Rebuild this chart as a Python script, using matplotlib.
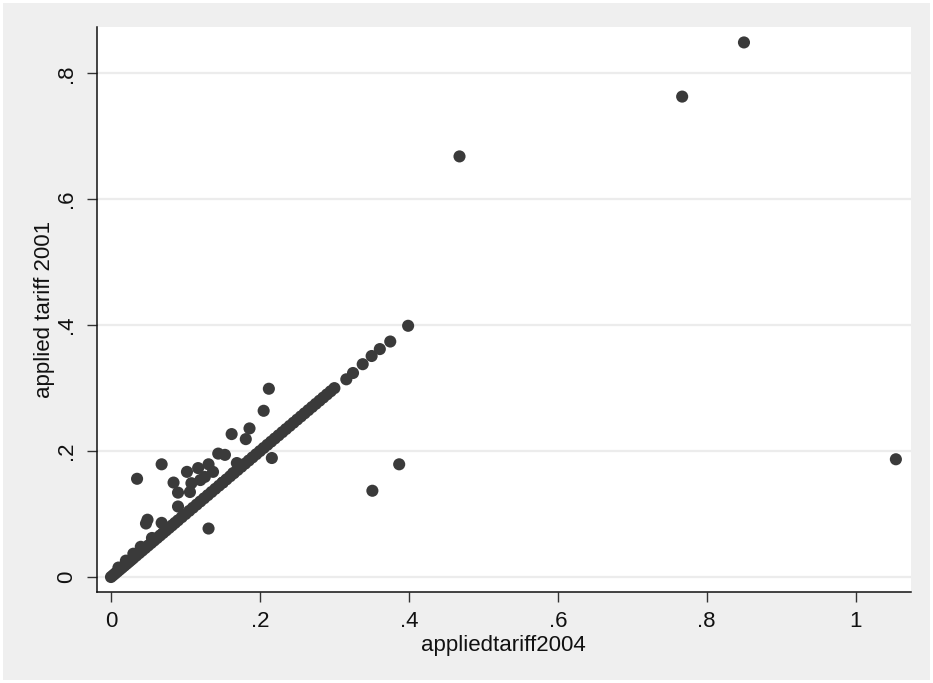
import matplotlib
matplotlib.use("Agg")
import matplotlib.pyplot as plt
from matplotlib.patches import Rectangle

# ---- data ----
diag_2004 = [0.000, 0.003, 0.006, 0.009, 0.012, 0.015, 0.018, 0.021, 0.024, 0.027,
             0.030, 0.034, 0.038, 0.042, 0.046, 0.050, 0.054, 0.058, 0.062, 0.066,
             0.070, 0.074, 0.078, 0.082, 0.086, 0.090, 0.095, 0.100, 0.105, 0.110,
             0.115, 0.120, 0.125, 0.130, 0.135, 0.140, 0.145, 0.150, 0.155, 0.160,
             0.165, 0.170, 0.175, 0.180, 0.185, 0.190, 0.195, 0.200, 0.205, 0.210,
             0.215, 0.220, 0.225, 0.230, 0.235, 0.240, 0.245, 0.250, 0.255, 0.260,
             0.265, 0.270, 0.275, 0.280, 0.285, 0.290, 0.295, 0.300,
             0.316, 0.325, 0.338, 0.350, 0.361, 0.375, 0.399,
             0.010, 0.020, 0.030, 0.040, 0.055]
diag_2001 = [0.000, 0.003, 0.006, 0.009, 0.012, 0.015, 0.018, 0.021, 0.024, 0.027,
             0.030, 0.034, 0.038, 0.042, 0.046, 0.050, 0.054, 0.058, 0.062, 0.066,
             0.070, 0.074, 0.078, 0.082, 0.086, 0.090, 0.095, 0.100, 0.105, 0.110,
             0.115, 0.120, 0.125, 0.130, 0.135, 0.140, 0.145, 0.150, 0.155, 0.160,
             0.165, 0.170, 0.175, 0.180, 0.185, 0.190, 0.195, 0.200, 0.205, 0.210,
             0.215, 0.220, 0.225, 0.230, 0.235, 0.240, 0.245, 0.250, 0.255, 0.260,
             0.265, 0.270, 0.275, 0.280, 0.285, 0.290, 0.295, 0.300,
             0.314, 0.324, 0.338, 0.351, 0.362, 0.374, 0.399,
             0.015, 0.026, 0.037, 0.048, 0.062]

off_2004 = [0.035, 0.068, 0.049, 0.047, 0.068, 0.084, 0.090, 0.090, 0.102, 0.106,
            0.108, 0.117, 0.120, 0.126, 0.131, 0.137, 0.131, 0.144, 0.153, 0.150,
            0.164, 0.169, 0.162, 0.181, 0.186, 0.205, 0.212, 0.216, 0.351, 0.387,
            0.468, 0.767, 0.850, 1.054]
off_2001 = [0.156, 0.179, 0.091, 0.085, 0.086, 0.150, 0.134, 0.112, 0.167, 0.135,
            0.149, 0.173, 0.154, 0.159, 0.179, 0.167, 0.077, 0.196, 0.194, 0.150,
            0.165, 0.181, 0.227, 0.219, 0.236, 0.264, 0.299, 0.189, 0.137, 0.179,
            0.668, 0.763, 0.849, 0.187]

x_ticks = [0, 0.2, 0.4, 0.6, 0.8, 1.0]
x_ticklabels = ["0", ".2", ".4", ".6", ".8", "1"]
y_ticks = [0, 0.2, 0.4, 0.6, 0.8]
y_ticklabels = ["0", ".2", ".4", ".6", ".8"]

x_all = diag_2004 + off_2004
y_all = diag_2001 + off_2001

# ---- figure ----
W, H = 933, 683
plt.rcParams["font.family"] = ["Liberation Sans", "DejaVu Sans"]
fig = plt.figure(figsize=(W / 100, H / 100), dpi=100, facecolor="white")

bg = Rectangle((3 / W, 3 / H), (930 - 3) / W, (680 - 3) / H,
               transform=fig.transFigure, facecolor="#efefef",
               edgecolor="none", zorder=-10)
fig.patches.append(bg)

ax = fig.add_axes([96.7 / W, (H - 592) / H, (911 - 96.7) / W, (592 - 26.7) / H])
ax.set_zorder(5)
ax.set_facecolor("white")

ax.scatter(x_all, y_all, s=76, color="#3a3a3a", edgecolors="none", zorder=3)

ax.set_xlim(-0.0192, 1.0743)
ax.set_ylim(-0.0238, 0.874)

ax.set_xticks(x_ticks)
ax.set_xticklabels(x_ticklabels)
ax.set_yticks(y_ticks)
ax.set_yticklabels(y_ticklabels, rotation=90, va="center")

ax.yaxis.grid(True, color="#ececec", linewidth=1.6, zorder=0)
ax.xaxis.grid(False)
ax.set_axisbelow(True)

for side in ["top", "right"]:
    ax.spines[side].set_visible(False)
for side in ["left", "bottom"]:
    ax.spines[side].set_color("#111111")
    ax.spines[side].set_linewidth(1.1)

ax.tick_params(axis="both", direction="out", length=7, width=1.0, color="#333333",
               labelsize=16, labelcolor="#111111")
ax.tick_params(axis="x", pad=7)
ax.tick_params(axis="y", pad=7)

ax.set_xlabel("appliedtariff2004", fontsize=16, color="#111111", labelpad=2)
ax.set_ylabel("applied tariff 2001", fontsize=16, color="#111111", labelpad=1)

fig.savefig("out.png", dpi=100, facecolor=fig.get_facecolor())
